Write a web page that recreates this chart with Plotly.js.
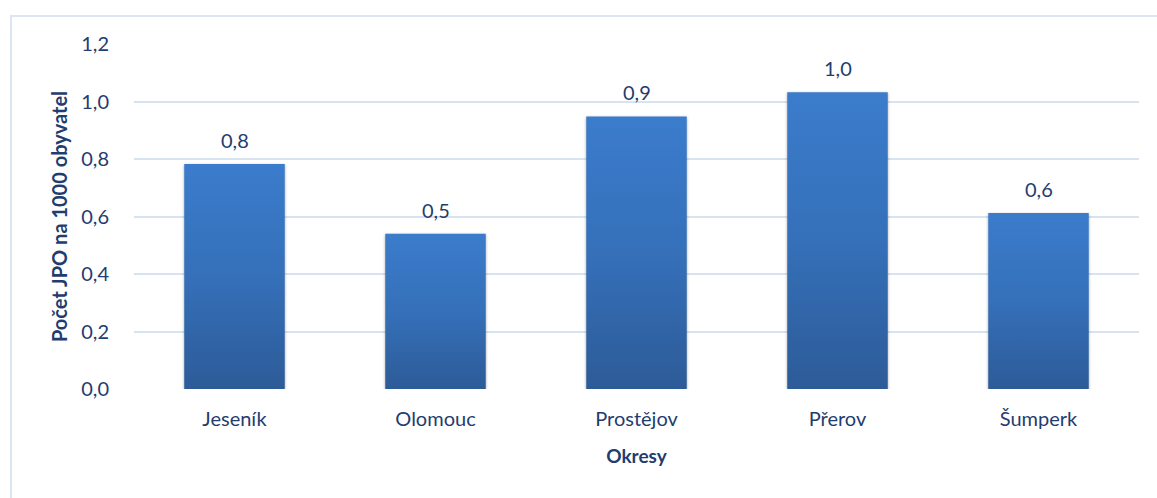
<!DOCTYPE html>
<html><head><meta charset="utf-8">
<script src="https://cdn.plot.ly/plotly-3.0.1.min.js"></script>
<style>
body{margin:0;padding:0;background:#fff;overflow:hidden}
#wrap{position:relative;width:1157px;height:498px}
#chart{width:1157px;height:498px}
#frame{position:absolute;left:10px;top:15px;width:1160px;height:500px;border:2px solid #dce6f2;box-sizing:border-box;pointer-events:none}
</style></head>
<body>
<div id="wrap"><div id="chart"></div><div id="frame"></div></div>
<script>
const categories = ["Jeseník", "Olomouc", "Prostějov", "Přerov", "Šumperk"];
const values = [0.783, 0.540, 0.948, 1.032, 0.612];
const yTickVals = [0, 0.2, 0.4, 0.6, 0.8, 1.0, 1.2];
const yTickText = ["0,0", "0,2", "0,4", "0,6", "0,8", "1,0", "1,2"];
const xTitle = "Okresy";
const yTitle = "Počet JPO na 1000 obyvatel";

const textColor = "#1f3d6e";
const fontFam = "Lato, 'Open Sans', sans-serif";

const trace = {
  type: "bar",
  x: categories,
  y: values,
  marker: {color: "#3470b8", line: {width: 0}},
  hoverinfo: "none"
};

const annotations = categories.map((c, i) => ({
  x: c, y: values[i], xref: "x", yref: "y",
  text: values[i].toFixed(1).replace(".", ","),
  showarrow: false, yanchor: "bottom", yshift: 10,
  font: {family: fontFam, size: 20, color: textColor}
}));

const layout = {
  width: 1157, height: 498,
  margin: {l: 134, r: 18, t: 44, b: 109},
  paper_bgcolor: "#fff", plot_bgcolor: "#fff",
  bargap: 0.5,
  showlegend: false,
  font: {family: fontFam, color: textColor, size: 20},
  xaxis: {
    type: "category",
    showgrid: false, zeroline: false, showline: false,
    ticks: "outside", ticklen: 12, tickcolor: "rgba(0,0,0,0)",
    tickfont: {family: fontFam, size: 20, color: textColor},
    title: {text: "<b>" + xTitle + "</b>", standoff: 20, font: {family: fontFam, size: 19, color: textColor}}
  },
  yaxis: {
    range: [0, 1.2],
    tickvals: yTickVals, ticktext: yTickText,
    showgrid: true, gridcolor: "#d8e3f1", gridwidth: 2,
    zeroline: false, showline: false,
    ticks: "outside", ticklen: 20, tickcolor: "rgba(0,0,0,0)",
    tickfont: {family: fontFam, size: 20, color: textColor},
    title: {text: "<b>" + yTitle + "</b>", standoff: 8, font: {family: fontFam, size: 20, color: textColor}}
  },
  annotations: annotations
};

Plotly.newPlot("chart", [trace], layout, {displayModeBar: false, staticPlot: true}).then(gd => {
  const svg = gd.querySelector(".main-svg");
  const ns = "http://www.w3.org/2000/svg";
  let defs = svg.querySelector("defs");
  const lg = document.createElementNS(ns, "linearGradient");
  lg.setAttribute("id", "barGrad");
  lg.setAttribute("x1", "0"); lg.setAttribute("y1", "0");
  lg.setAttribute("x2", "0"); lg.setAttribute("y2", "1");
  [["0", "#3b7ccc"], ["0.5", "#3570b9"], ["1", "#2d5b98"]].forEach(([o, c]) => {
    const s = document.createElementNS(ns, "stop");
    s.setAttribute("offset", o); s.setAttribute("stop-color", c);
    lg.appendChild(s);
  });
  defs.appendChild(lg);
  gd.querySelectorAll(".bars .point path").forEach(p => {
    p.style.fill = "url(#barGrad)";
    p.style.filter = "drop-shadow(0px 1px 1.5px rgba(0,0,0,0.35))";
  });
});
</script>
</body></html>
